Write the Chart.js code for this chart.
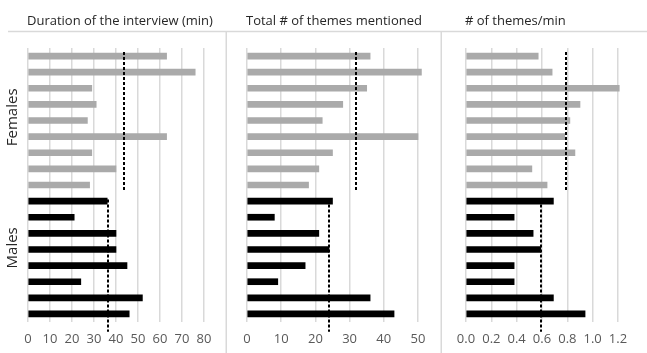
<!DOCTYPE html>
<html>
<head>
<meta charset="utf-8">
<script src="https://cdn.jsdelivr.net/npm/chart.js@4/dist/chart.umd.min.js"></script>
<style>
html,body{margin:0;padding:0;background:#fff;}
#wrap{position:relative;width:647px;height:353px;overflow:hidden;background:#fff;}
canvas{position:absolute;top:0;}
</style>
</head>
<body>
<div id="wrap">
<canvas id="c1" width="227" height="353" style="left:0px"></canvas>
<canvas id="c2" width="215" height="353" style="left:227px"></canvas>
<canvas id="c3" width="205" height="353" style="left:442px"></canvas>
</div>
<script>
// ---- data ----
const femaleIds = ['F1','F2','F3','F4','F5','F6','F7','F8','F9'];
const maleIds = ['M1','M2','M3','M4','M5','M6','M7','M8'];
const groupLabels = ['Females','Males'];
const panelTitles = ['Duration of the interview (min)','Total # of themes mentioned','# of themes/min'];

const durationFemales = [63, 76, 29, 31, 27, 63, 29, 40, 28];
const durationMales   = [36, 21, 40, 40, 45, 24, 52, 46];
const durationMeans   = [43.8, 36.4];
const durationTicks   = [0, 80, 10];

const themesFemales = [36, 51, 35, 28, 22, 50, 25, 21, 18];
const themesMales   = [25, 8, 21, 24, 17, 9, 36, 43];
const themesMeans   = [32, 24.1];
const themesTicks   = [0, 50, 10];

const rateFemales = [0.57, 0.68, 1.21, 0.90, 0.82, 0.78, 0.86, 0.52, 0.64];
const rateMales   = [0.69, 0.38, 0.53, 0.59, 0.38, 0.38, 0.69, 0.94];
const rateMeans   = [0.79, 0.59];
const rateTicks   = [0, 1.2, 0.2];

// ---- styling ----
const FONT = 'Open Sans';
const GRID = '#d9d9d9';
const GREY_BAR = '#aaaaaa';
const BLACK_BAR = '#000000';
const categories = femaleIds.concat(maleIds);
const barColors = femaleIds.map(() => GREY_BAR).concat(maleIds.map(() => BLACK_BAR));

const decoPlugin = {
  id: 'deco',
  beforeDraw(chart, args, opts) {
    const ctx = chart.ctx;
    ctx.save();
    ctx.strokeStyle = GRID;
    ctx.lineWidth = 1.5;
    ctx.beginPath();
    ctx.moveTo(opts.lineStart, 31.5);
    ctx.lineTo(chart.width, 31.5);
    ctx.stroke();
    if (opts.rightBorder) {
      ctx.beginPath();
      ctx.moveTo(chart.width - 0.75, 31);
      ctx.lineTo(chart.width - 0.75, chart.height);
      ctx.stroke();
    }
    // panel title
    ctx.fillStyle = '#262626';
    ctx.font = '13px "' + FONT + '"';
    ctx.textAlign = 'left';
    ctx.textBaseline = 'middle';
    ctx.fillText(opts.title, chart.chartArea.left - 1, 21);
    if (opts.groupText) {
      const y = chart.scales.y;
      ctx.font = '15px "' + FONT + '"';
      ctx.textAlign = 'center';
      opts.groupText.forEach((t, i) => {
        const py = y.getPixelForValue(opts.groupTextPos[i]);
        ctx.save();
        ctx.translate(13, py);
        ctx.rotate(-Math.PI / 2);
        ctx.fillText(t, 0, 0);
        ctx.restore();
      });
    }
    ctx.restore();
  },
  afterDatasetsDraw(chart, args, opts) {
    const ctx = chart.ctx;
    const x = chart.scales.x, y = chart.scales.y;
    ctx.save();
    ctx.strokeStyle = '#000';
    ctx.lineWidth = 2;
    ctx.setLineDash([3, 2]);
    opts.means.forEach((m, i) => {
      const px = Math.round(x.getPixelForValue(m));
      const r = opts.spans[i];
      ctx.beginPath();
      ctx.moveTo(px, y.getPixelForValue(r[0]));
      ctx.lineTo(px, y.getPixelForValue(r[1]));
      ctx.stroke();
    });
    ctx.restore();
  }
};

function makePanel(id, title, females, males, means, ticks, pad, deco, fmt) {
  const data = females.concat(males);
  return new Chart(document.getElementById(id), {
    type: 'bar',
    data: {
      labels: categories,
      datasets: [{
        data: data,
        backgroundColor: barColors,
        borderWidth: 0,
        barThickness: 6,
        clip: false
      }]
    },
    plugins: [decoPlugin],
    options: {
      indexAxis: 'y',
      responsive: false,
      animation: false,
      devicePixelRatio: 1,
      layout: { padding: { left: pad[0], right: pad[1], top: 48, bottom: 0 } },
      plugins: {
        legend: { display: false },
        tooltip: { enabled: false },
        title: { display: false },
        deco: Object.assign({
          title: title,
          means: means,
          spans: [[-0.25, 8.4], [8.9, 17.1]]
        }, deco)
      },
      scales: {
        x: {
          type: 'linear',
          min: ticks[0],
          max: ticks[1],
          grid: { color: GRID, lineWidth: 1.5, drawTicks: false },
          border: { display: false },
          ticks: {
            stepSize: ticks[2],
            padding: 9,
            color: '#595959',
            font: { family: FONT, size: 13 },
            maxRotation: 0,
            autoSkip: false,
            callback: (v) => fmt(v)
          },
          afterFit(scale) {
            scale.height = 31;
            scale.paddingLeft = 0;
            scale.paddingRight = 0;
          }
        },
        y: {
          display: false,
          offset: true
        }
      }
    }
  });
}

makePanel('c1', panelTitles[0], durationFemales, durationMales, durationMeans, durationTicks,
  [28, 23], { lineStart: 8, rightBorder: true, groupText: groupLabels, groupTextPos: [3.8, 11.9] },
  v => String(Math.round(v)));
makePanel('c2', panelTitles[1], themesFemales, themesMales, themesMeans, themesTicks,
  [20, 24], { lineStart: 0, rightBorder: true },
  v => String(Math.round(v)));
makePanel('c3', panelTitles[2], rateFemales, rateMales, rateMeans, rateTicks,
  [24, 29], { lineStart: 0, rightBorder: false },
  v => (Math.round(v * 10) / 10).toFixed(1));
</script>
</body>
</html>
